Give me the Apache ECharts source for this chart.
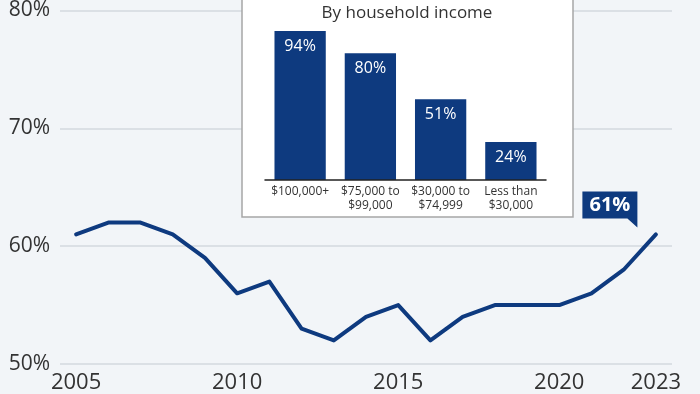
<!DOCTYPE html>
<html><head><meta charset="utf-8">
<script src="https://cdn.jsdelivr.net/npm/echarts@6/dist/echarts.min.js"></script>
<style>html,body{margin:0;padding:0;background:#f2f5f8}#c{width:700px;height:394px}</style>
</head><body><div id="c"></div>
<script>
const years = ['2005','2006','2007','2008','2009','2010','2011','2012','2013','2014','2015','2016','2017','2018','2019','2020','2021','2022','2023'];
const shareValues = [61,62,62,61,59,56,57,53,52,54,55,52,54,55,55,55,56,58,61];
const xTickLabels = ['2005','2010','2015','2020','2023'];
const yMin = 50, yMax = 80, yStep = 10;
const incomeGroups = ['$100,000+','$75,000 to\n$99,000','$30,000 to\n$74,999','Less than\n$30,000'];
const incomeValues = [94,80,51,24];
const insetTitle = 'By household income';

const navy = '#0e3a7f';
const font = '"Open Sans", "DejaVu Sans", sans-serif';
const lastIdx = years.length - 1;

const chart = echarts.init(document.getElementById('c'), null, {renderer:'canvas'});
chart.setOption({
  backgroundColor:'#f2f5f8',
  animation:false,
  textStyle:{fontFamily:font},
  graphic:{
    z:1,
    elements:[
      {type:'rect', z:1, shape:{x:242,y:-3,width:331,height:220}, style:{fill:'#ffffff', stroke:'#a6a6a6', lineWidth:1.5}},
      {type:'text', z:2, x:407, y:13, style:{text:insetTitle, fill:'#333', font:'17px ' + font, align:'center', verticalAlign:'middle', textAlign:'center', textVerticalAlign:'middle'}}
    ]
  },
  grid:[
    {left:60, right:28, top:6, bottom:30},
    {left:265, right:154, top:21.5, bottom:214}
  ],
  xAxis:[
    {type:'category', data:years, boundaryGap:true,
     axisLine:{show:false}, axisTick:{show:false},
     axisLabel:{interval:(i,v)=>xTickLabels.includes(v), fontSize:22, color:'#333', margin:8, fontFamily:font}},
    {type:'category', gridIndex:1, data:incomeGroups, z:5,
     axisLine:{lineStyle:{color:'#222', width:1.5}}, axisTick:{show:false},
     axisLabel:{fontSize:12, lineHeight:13.5, color:'#333', margin:5, interval:0, fontFamily:font}}
  ],
  yAxis:[
    {type:'value', min:yMin, max:yMax, interval:yStep,
     axisLine:{show:false}, axisTick:{show:false},
     axisLabel:{formatter:'{value}%', fontSize:21, color:'#333', margin:10, fontFamily:font},
     splitLine:{lineStyle:{color:'#d3d9df', width:1.5}}},
    {type:'value', gridIndex:1, min:0, max:100, show:false, splitLine:{show:false}}
  ],
  series:[
    {type:'line', data:shareValues, symbol:'none', z:3,
     lineStyle:{color:navy, width:4, join:'round', cap:'round'},
     markPoint:{
       symbol:'path://M0,0H55V36L45,27H0Z', symbolSize:[55,36], symbolKeepAspect:false,
       symbolOffset:[-46,-25],
       itemStyle:{color:navy},
       label:{show:true, formatter:'{c}%', color:'#fff', fontSize:20, fontWeight:'bold', offset:[0,-4], fontFamily:font},
       data:[{coord:[years[lastIdx], shareValues[lastIdx]], value:shareValues[lastIdx]}]
     }},
    {type:'bar', xAxisIndex:1, yAxisIndex:1, data:incomeValues, barCategoryGap:'27%', z:3,
     itemStyle:{color:navy},
     label:{show:true, position:'insideTop', distance:7, formatter:'{c}%', color:'#fff', fontSize:16, fontFamily:font}}
  ]
});
</script>
</body></html>
